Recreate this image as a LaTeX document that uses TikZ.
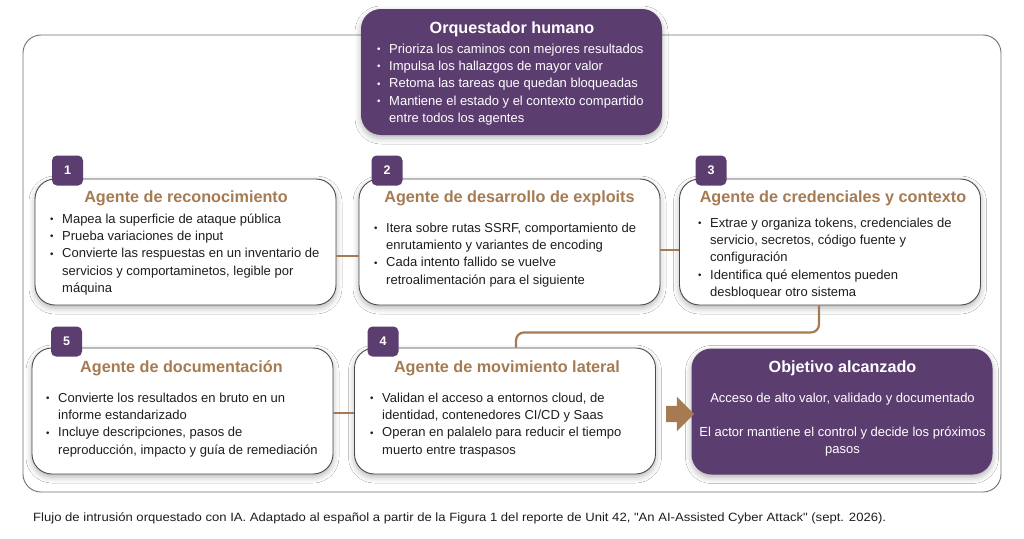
\documentclass[tikz,border=0pt]{standalone}
\usepackage{fontspec}
\setmainfont{Liberation Sans}
\newfontfamily\capfont{Liberation Sans}
\usetikzlibrary{shadows.blur,shapes.arrows,calc}
\definecolor{purp}{HTML}{5C3D70}
\definecolor{brn}{HTML}{A67B52}
\definecolor{txt}{HTML}{1E1E1E}
\definecolor{framegray}{HTML}{707070}
\definecolor{boxgray}{HTML}{4A4A4A}
\newcommand{\bu}{\makebox[12pt][l]{\raisebox{0.6pt}{\scalebox{0.75}{\textbullet}}}}
\newcommand{\ct}{\hspace*{12pt}}
\begin{document}
\begin{tikzpicture}[x=1pt,y=-1pt,
  shadowed/.style={blur shadow={shadow xshift=0pt, shadow yshift=-3pt, shadow blur radius=6pt, shadow opacity=30}},
  agent/.style={shadowed, draw=boxgray, line width=0.9pt, fill=white, rounded corners=20pt, minimum width=301pt, minimum height=126pt, inner sep=0},
  purplebox/.style={shadowed, fill=purp, rounded corners=20pt, minimum width=301pt, minimum height=126pt, inner sep=0},
  badge/.style={fill=purp, rounded corners=5pt, minimum width=31pt, minimum height=30pt, inner sep=0, text=white, font=\bfseries\fontsize{12.5}{14}\selectfont},
  ttl/.style={text=brn, font=\bfseries\fontsize{16.2}{18}\selectfont, anchor=base, inner sep=0},
  wttl/.style={text=white, font=\bfseries\fontsize{16.2}{18}\selectfont, anchor=base, inner sep=0},
  body/.style={text=txt, font=\fontsize{13}{17.4}\selectfont, anchor=base west, inner sep=0},
  wbody/.style={text=white, font=\fontsize{13}{17.4}\selectfont, anchor=base, inner sep=0, align=center},
  conn/.style={draw=brn, line width=2.2pt},
]
\useasboundingbox (0,0) rectangle (1024,538);
\fill[white] (0,0) rectangle (1024,538);

% outer frame
\draw[framegray, line width=0.9pt, rounded corners=18pt] (23,35) rectangle (1001,492);

% boxes
\node[purplebox] (orch) at (511.5,72) {};
\node[agent] (b1) at (185.5,242) {};
\node[agent] (b2) at (509.5,242) {};
\node[agent] (b3) at (830,242) {};
\node[agent] (b5) at (182.5,411) {};
\node[agent] (b4) at (505,411) {};
\node[purplebox] (obj) at (842,411.5) {};

% connectors
\draw[conn] ($(b1.east)+(0,14)$) -- ($(b2.west)+(0,14)$);
\draw[conn] ($(b2.east)+(0,8)$) -- ($(b3.west)+(0,8)$);
\draw[conn, rounded corners=8pt] ($(b3.south)+(-11,0)$) -- ++(0,27) -| ($(b4.north)+(11,0)$);
\draw[conn] ($(b5.east)+(0,2)$) -- ($(b4.west)+(0,2)$);
\node[single arrow, fill=brn, inner xsep=0pt, inner ysep=8pt, minimum height=28pt, single arrow head extend=9pt] (arr) at (676,414) {};

% badges
\node[badge] (n1) at (67.5,170.5) {1};
\node[badge] (n2) at (387,170.5) {2};
\node[badge] (n3) at (711,170.5) {3};
\node[badge] (n5) at (66.5,341.5) {5};
\node[badge] (n4) at (383,341.5) {4};

% titles
\node[wttl] (orcht) at (512,33.5) {Orquestador humano};
\node[ttl] (t1) at (186,202) {Agente de reconocimiento};
\node[ttl] (t2) at (509.5,202) {Agente de desarrollo de exploits};
\node[ttl] (t3) at (833,202) {Agente de credenciales y contexto};
\node[ttl] (t5) at (181.5,372) {Agente de documentación};
\node[ttl] (t4) at (507,372) {Agente de movimiento lateral};
\node[wttl] (objt) at (842.5,372) {Objetivo alcanzado};

% bodies
\node[body, text=white] (orchb) at (377,53) {\begin{tabular}[t]{@{}l@{}}
\bu Prioriza los caminos con mejores resultados\\
\bu Impulsa los hallazgos de mayor valor\\
\bu Retoma las tareas que quedan bloqueadas\\
\bu Mantiene el estado y el contexto compartido\\
\ct entre todos los agentes
\end{tabular}};
\node[body] (b1b) at (50,223) {\begin{tabular}[t]{@{}l@{}}
\bu Mapea la superficie de ataque pública\\
\bu Prueba variaciones de input\\
\bu Convierte las respuestas en un inventario de\\
\ct servicios y comportaminetos, legible por\\
\ct máquina
\end{tabular}};
\node[body] (b2b) at (374,232) {\begin{tabular}[t]{@{}l@{}}
\bu Itera sobre rutas SSRF, comportamiento de\\
\ct enrutamiento y variantes de encoding\\
\bu Cada intento fallido se vuelve\\
\ct retroalimentación para el siguiente
\end{tabular}};
\node[body] (b3b) at (698,227) {\begin{tabular}[t]{@{}l@{}}
\bu Extrae y organiza tokens, credenciales de\\
\ct servicio, secretos, código fuente y\\
\ct configuración\\
\bu Identifica qué elementos pueden\\
\ct desbloquear otro sistema
\end{tabular}};
\node[body] (b5b) at (46,402) {\begin{tabular}[t]{@{}l@{}}
\bu Convierte los resultados en bruto en un\\
\ct informe estandarizado\\
\bu Incluye descripciones, pasos de\\
\ct reproducción, impacto y guía de remediación
\end{tabular}};
\node[body] (b4b) at (370,402) {\begin{tabular}[t]{@{}l@{}}
\bu Validan el acceso a entornos cloud, de\\
\ct identidad, contenedores CI/CD y Saas\\
\bu Operan en palalelo para reducir el tiempo\\
\ct muerto entre traspasos
\end{tabular}};
\node[wbody] (objb1) at (842.5,402) {Acceso de alto valor, validado y documentado};
\node[wbody] (objb2) at (842.5,436) {\begin{tabular}[t]{@{}c@{}}El actor mantiene el control y decide los próximos\\ pasos\end{tabular}};

% caption
\node[text=txt, font=\capfont\fontsize{12}{14}\selectfont, anchor=base west, inner sep=0] (cap) at (33,521) {\resizebox{853pt}{\height}{Flujo de intrusión orquestado con IA. Adaptado al español a partir de la Figura 1 del reporte de Unit 42, "An AI-Assisted Cyber Attack" (sept. 2026).}};
\end{tikzpicture}
\end{document}
